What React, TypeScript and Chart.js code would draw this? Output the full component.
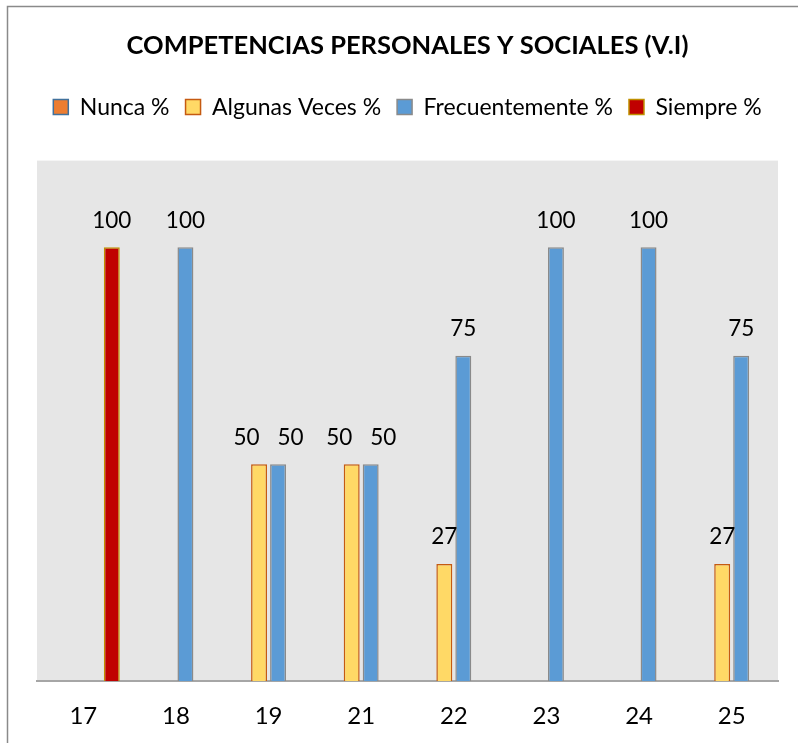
import React, { useEffect, useRef } from "react";
import { Chart, registerables } from "chart.js";

Chart.register(...registerables);

const categories = ["17", "18", "19", "21", "22", "23", "24", "25"];
const nunca: (number | null)[] = [null, null, null, null, null, null, null, null];
const algunasVeces: (number | null)[] = [null, null, 50, 50, 27, null, null, 27];
const frecuentemente: (number | null)[] = [null, 100, 50, 50, 75, 100, 100, 75];
const siempre: (number | null)[] = [100, null, null, null, null, null, null, null];

const FONT = "Lato, 'Open Sans', sans-serif";

const bgPlugin = {
  id: "plotBg",
  beforeInit(chart: any) {
    const legend = chart.legend;
    if (legend && !legend._patched) {
      const orig = legend.fit;
      legend.fit = function () {
        orig.call(this);
        this.height += 32;
      };
      legend._patched = true;
    }
  },
  beforeDraw(chart: any) {
    const { ctx, chartArea } = chart;
    ctx.save();
    ctx.fillStyle = "#e6e6e6";
    ctx.fillRect(chartArea.left, chartArea.top, chartArea.right - chartArea.left, chartArea.bottom - chartArea.top);
    ctx.restore();
  },
  afterDraw(chart: any) {
    const { ctx } = chart;
    ctx.save();
    ctx.strokeStyle = "#8a8a8a";
    ctx.lineWidth = 1.5;
    ctx.beginPath();
    ctx.moveTo(7.5, chart.height + 5);
    ctx.lineTo(7.5, 6.5);
    ctx.lineTo(chart.width + 5, 6.5);
    ctx.stroke();
    ctx.restore();
  },
};

const labelPlugin = {
  id: "valueLabels",
  afterDatasetsDraw(chart: any) {
    const { ctx } = chart;
    ctx.save();
    ctx.font = `22.5px ${FONT}`;
    ctx.fillStyle = "#000";
    ctx.textAlign = "center";
    ctx.textBaseline = "middle";
    const groups: Record<number, { x: number; y: number; v: number }[]> = {};
    chart.data.datasets.forEach((ds: any, di: number) => {
      const meta = chart.getDatasetMeta(di);
      meta.data.forEach((el: any, i: number) => {
        const v = ds.data[i];
        if (v === null || v === undefined) return;
        (groups[i] = groups[i] || []).push({ x: el.x, y: el.y, v });
      });
    });
    Object.values(groups).forEach((items) => {
      items.forEach((it) => {
        let x = it.x;
        const same = items.filter((o) => o.v === it.v);
        if (same.length > 1) {
          const idx = same.indexOf(it);
          const mid = same.reduce((s, o) => s + o.x, 0) / same.length;
          x = mid + (idx - (same.length - 1) / 2) * 44;
        }
        ctx.fillText(String(it.v), x, it.y - 27);
      });
    });
    ctx.restore();
  },
};

export default function App() {
  const ref = useRef<HTMLCanvasElement | null>(null);
  useEffect(() => {
    if (!ref.current) return;
    const chart = new Chart(ref.current, {
      type: "bar",
      data: {
        labels: categories,
        datasets: [
          { label: "Nunca %", data: nunca, backgroundColor: "#ED7D31", borderColor: "#41719C", borderWidth: 1.5 },
          { label: "Algunas Veces %", data: algunasVeces, backgroundColor: "#FFD966", borderColor: "#C55A11", borderWidth: 1.5 },
          { label: "Frecuentemente %", data: frecuentemente, backgroundColor: "#5B9BD5", borderColor: "#8a8a8a", borderWidth: 1.5 },
          { label: "Siempre %", data: siempre, backgroundColor: "#C00000", borderColor: "#BF9000", borderWidth: 1.5 },
        ],
      },
      options: {
        animation: false,
        responsive: false,
        maintainAspectRatio: false,
        layout: { padding: { left: 37, right: 20, top: 0, bottom: 0 } },
        datasets: { bar: { categoryPercentage: 0.82, barPercentage: 0.84 } },
        plugins: {
          tooltip: { enabled: false },
          title: {
            display: true,
            text: "COMPETENCIAS PERSONALES Y SOCIALES (V.I)",
            color: "#000",
            font: { family: FONT, size: 25.5, weight: "bold" },
            padding: { top: 30, bottom: 19 },
          },
          legend: {
            display: true,
            position: "top",
            labels: {
              color: "#000",
              font: { family: FONT, size: 23 },
              boxWidth: 15,
              boxHeight: 15,
              padding: 16,
            },
          },
        },
        scales: {
          x: {
            grid: { display: false, drawTicks: false },
            border: { display: true, color: "#a6a6a6", width: 2 },
            ticks: { color: "#000", font: { family: FONT, size: 24 }, padding: 21 },
            afterFit(scale: any) {
              scale.height -= 9;
            },
          },
          y: {
            display: false,
            min: 0,
            max: 120,
          },
        },
      },
      plugins: [bgPlugin, labelPlugin],
    });
    return () => chart.destroy();
  }, []);
  return (
    <div style={{ position: "absolute", left: 0, top: 0, width: 798, height: 743, background: "#fff" }}>
      <canvas ref={ref} width={798} height={743} style={{ display: "block" }} />
    </div>
  );
}
